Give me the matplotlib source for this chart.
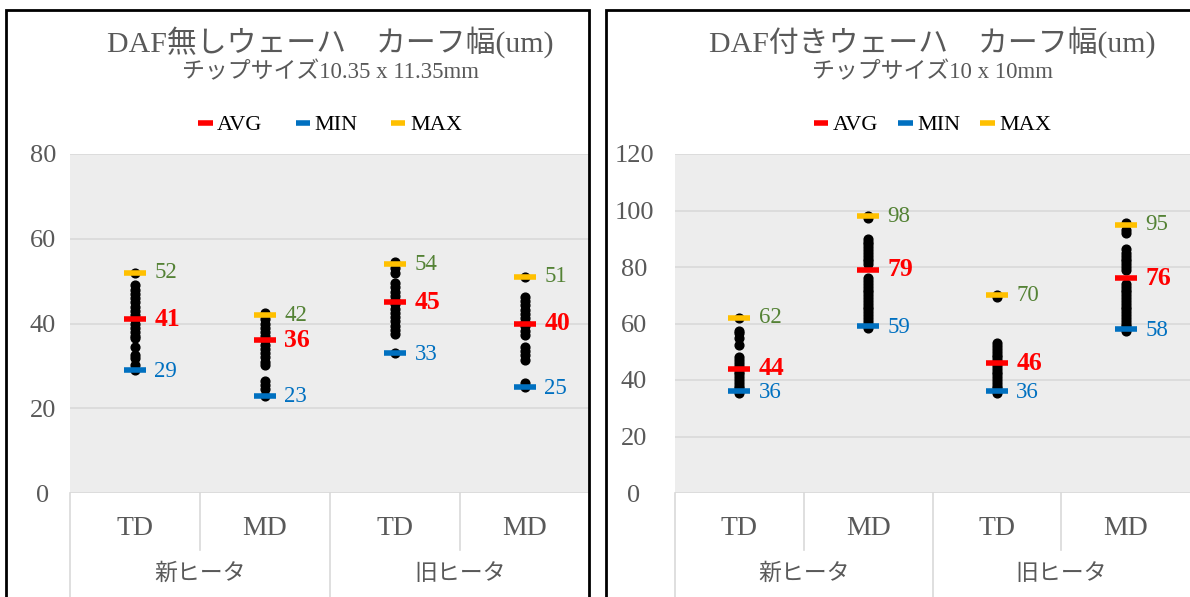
import matplotlib.pyplot as plt
from matplotlib.lines import Line2D
from matplotlib.patches import Rectangle

plt.rcParams['font.family'] = ['Liberation Serif', 'Noto Sans CJK JP']

W, H = 1190, 597

categories = ['TD', 'MD', 'TD', 'MD']
groups = ['新ヒータ', '旧ヒータ']

# left panel: DAF無し
left_dots = [
    [52, 49, 48, 47, 46, 45, 44, 43, 42, 41, 40, 39, 38, 37, 36.5, 34.5, 32.5, 31.8, 30.2, 29],
    [42.5, 42, 41, 40, 39, 38, 37, 36, 35, 34, 33, 32, 31, 30.3, 26.5, 25.5, 24.5, 23],
    [54.5, 53, 52, 49.5, 48.5, 47.5, 46.5, 45.5, 44.5, 43.5, 42.5, 41.5, 40.5, 39.5, 38.5, 37.5, 33],
    [51, 46.3, 45.3, 44.3, 43.3, 42.3, 41.3, 40.3, 39.3, 38.3, 37.3, 34.5, 33.5, 32.5, 31.5, 26, 25],
]
left_avg = [41, 36, 45, 40]
left_min = [29, 23, 33, 25]
left_max = [52, 42, 54, 51]

# right panel: DAF付き
right_dots = [
    [62, 57.5, 56.5, 55, 52.5, 48, 47, 46, 45, 44, 43, 42, 41, 40, 39, 38, 37, 36, 35.5],
    [98, 97.5, 90, 89, 88, 87, 86, 85, 84, 83, 82, 81, 76, 75, 74, 73, 72, 71, 70, 69, 68,
     67, 66, 65, 64, 63, 62, 61, 60, 59, 58.5],
    [70, 69.5, 53, 52, 51, 50, 49, 48, 47, 46, 45, 44, 43, 42, 41, 40, 39, 38, 37, 36, 35.5],
    [95.5, 93, 92, 86.5, 85, 84, 83, 82, 81, 80, 79, 74, 73, 72, 71, 70, 69, 68, 67, 66, 65,
     64, 63, 62, 61, 60, 59, 58, 57.5],
]
right_avg = [44, 79, 46, 76]
right_min = [36, 59, 36, 58]
right_max = [62, 98, 70, 95]

RED, BLUE, YEL, GRN, GREY = '#FF0000', '#0070C0', '#FFC000', '#548235', '#595959'

fig = plt.figure(figsize=(11.9, 5.97), dpi=100)


def panel(x0, x1, dots, avg, mn, mx, ymax, title, subtitle, ypad, colsp):
    ax = fig.add_axes([x0 / W, 1 - 493 / H, (x1 - x0) / W, (493 - 154) / H])
    ax.set_facecolor('#EDEDED')
    for s in ax.spines.values():
        s.set_visible(False)
    ax.set_xlim(-0.5, 3.5)
    ax.set_ylim(0, ymax)
    ax.set_yticks(range(0, ymax + 1, 20))
    ax.yaxis.grid(True, color='#D9D9D9', lw=1.2)
    ax.set_axisbelow(True)
    ax.tick_params(axis='y', length=0, labelsize=19, labelcolor=GREY, pad=ypad)
    for t in ax.get_yticklabels():
        t.set_horizontalalignment('center')
    ax.set_xticks([])

    for i, vals in enumerate(dots):
        ax.plot([i] * len(vals), vals, 'o', color='black', ms=6.3, zorder=3)

    x = range(4)
    ax.plot(x, mx, ls='none', marker='_', ms=16, mew=4, color=YEL, zorder=4)
    ax.plot(x, mn, ls='none', marker='_', ms=16, mew=4, color=BLUE, zorder=4)
    ax.plot(x, avg, ls='none', marker='_', ms=16, mew=4, color=RED, zorder=4)
    for i in x:
        ax.annotate(str(mx[i]), (i, mx[i]), xytext=(14, 0), textcoords='offset points',
                    va='center', fontsize=16.5, color=GRN)
        ax.annotate(str(mn[i]), (i, mn[i]), xytext=(14, -1), textcoords='offset points',
                    va='center', fontsize=16.5, color=BLUE)
        ax.annotate(str(avg[i]), (i, avg[i]), xytext=(14, 0), textcoords='offset points',
                    va='center', fontsize=18.5, color=RED, fontweight='bold')

    # category axis
    tr = ax.get_xaxis_transform()
    for xs in [0.5, 2.5]:
        ax.plot([xs, xs], [0, -0.168], transform=tr, clip_on=False, color='#D9D9D9', lw=1.2)
    for xs in [-0.5, 1.5]:
        ax.plot([xs, xs], [0, -0.32], transform=tr, clip_on=False, color='#D9D9D9', lw=1.2)
    for i, c in enumerate(categories):
        ax.text(i, -0.105, c, transform=tr, ha='center', va='center', fontsize=20, color=GREY)
    for j, g in enumerate(groups):
        ax.text(0.5 + 2 * j, -0.239, g, transform=tr, ha='center', va='center',
                fontsize=16.5, color=GREY)

    cx = (x0 + x1) / 2 / W
    fig.text(cx, 1 - 42 / H, title, ha='center', va='center', fontsize=21.5, color=GREY)
    fig.text(cx, 1 - 73 / H, subtitle, ha='center', va='center', fontsize=16.5, color=GREY)

    handles = [Line2D([], [], color=c, lw=4, solid_capstyle='butt') for c in [RED, BLUE, YEL]]
    ax.legend(handles, ['AVG', 'MIN', 'MAX'], loc='center', bbox_to_anchor=(0.5, 1.085),
              ncol=3, frameon=False, fontsize=16, handlelength=0.65, handletextpad=0.2,
              columnspacing=colsp)
    return ax


panel(70, 590, left_dots, left_avg, left_min, left_max, 80,
      'DAF無しウェーハ\u3000カーフ幅(um)', 'チップサイズ10.35 x 11.35mm', 19.5, 1.5)
panel(675, 1190, right_dots, right_avg, right_min, right_max, 120,
      'DAF付きウェーハ\u3000カーフ幅(um)', 'チップサイズ10 x 10mm', 29.5, 0.9)

# chart borders
fig.add_artist(Rectangle((6 / W, -0.05), 583 / W, 1.05 - 10 / H, transform=fig.transFigure,
                         fill=False, ec='black', lw=2))
fig.add_artist(Rectangle((606 / W, -0.05), 600 / W, 1.05 - 10 / H, transform=fig.transFigure,
                         fill=False, ec='black', lw=2))

fig.savefig('out.png', dpi=100)
